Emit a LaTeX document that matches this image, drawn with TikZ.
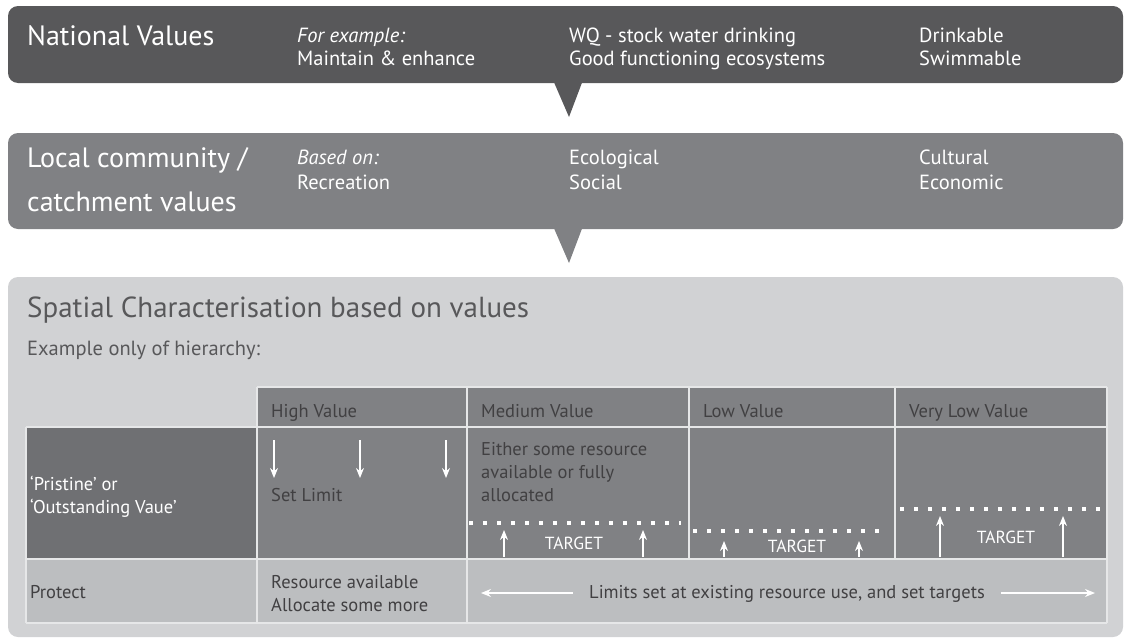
\documentclass[tikz,border=0pt]{standalone}
\usepackage{fontspec}
\setmainfont{PT Sans}
\usetikzlibrary{arrows.meta}

\definecolor{darkbox}{HTML}{58585A}
\definecolor{midbox}{HTML}{808184}
\definecolor{lightbox}{HTML}{D1D2D4}
\definecolor{protectrow}{HTML}{BCBEC0}
\definecolor{firstcell}{HTML}{6F7073}
\definecolor{celltxt}{HTML}{414042}
\definecolor{rule}{HTML}{E6E7E8}

\tikzset{
  panel/.style={rounded corners=10pt,inner sep=0pt},
  bigtxt/.style={anchor=base west,inner sep=0pt,text=white,font=\fontsize{28}{34}\selectfont},
  boxtxt/.style={anchor=base west,inner sep=0pt,text=white,font=\fontsize{20.5}{24}\selectfont},
  celltext/.style={anchor=base west,inner sep=0pt,text=celltxt,font=\fontsize{18.5}{22}\selectfont},
  tgt/.style={anchor=base,inner sep=0pt,text=white,font=\fontsize{17.5}{20}\selectfont},
  limit/.style={white,line width=1.2pt,-{Stealth[length=10pt,width=8pt]}},
  dots/.style={white,line width=3.5pt,dash pattern=on 3.5pt off 10.5pt},
  gridline/.style={rule,line width=1.5pt}
}

\begin{document}
\begin{tikzpicture}[x=1pt,y=-1pt]
  \useasboundingbox (0,0) rectangle (1124,637);

  % the three panels
  \node[panel,fill=darkbox,minimum width=1115pt,minimum height=77pt] (natbox) at (565.5,44.5) {};
  \fill[darkbox] (553,80) -- (583,80) -- (569,117) -- cycle;
  \node[panel,fill=midbox,minimum width=1115pt,minimum height=96pt] (locbox) at (565.5,181) {};
  \fill[midbox] (553,226) -- (583,226) -- (569,263) -- cycle;
  \node[panel,fill=lightbox,minimum width=1115pt,minimum height=360pt] (spabox) at (565.5,457) {};

  % national values
  \node[bigtxt] (nat) at (27,45) {National Values};
  \node[boxtxt] (nat1a) at (297,42) {\itshape For example:};
  \node[boxtxt] (nat1b) at (297,65) {Maintain \& enhance};
  \node[boxtxt] (nat2a) at (569,42) {WQ - stock water drinking};
  \node[boxtxt] (nat2b) at (569,65) {Good functioning ecosystems};
  \node[boxtxt] (nat3a) at (919,42) {Drinkable};
  \node[boxtxt] (nat3b) at (919,65) {Swimmable};

  % local values
  \node[bigtxt] (loca) at (27,167) {Local community /};
  \node[bigtxt] (locb) at (27,211) {catchment values};
  \node[boxtxt] (loc1a) at (297,164) {\itshape Based on:};
  \node[boxtxt] (loc1b) at (297,189) {Recreation};
  \node[boxtxt] (loc2a) at (569,164) {Ecological};
  \node[boxtxt] (loc2b) at (569,189) {Social};
  \node[boxtxt] (loc3a) at (919,164) {Cultural};
  \node[boxtxt] (loc3b) at (919,189) {Economic};

  % spatial characterisation
  \node[bigtxt,text=darkbox,font=\fontsize{29}{35}\selectfont] (spa) at (27,317) {Spatial Characterisation based on values};
  \node[boxtxt,text=darkbox] (hier) at (27,355) {Example only of hierarchy:};

  % table cells
  \fill[midbox] (257,387) rectangle (1107,559);
  \fill[firstcell] (26,427) rectangle (257,559);
  \fill[protectrow] (26,559) rectangle (1107,623);
  \draw[gridline] (257,387) -- (1107,387);
  \foreach \y in {427,559,623}
    \draw[gridline] (26,\y) -- (1107,\y);
  \foreach \x in {257,467,1107}
    \draw[gridline] (\x,387) -- (\x,623);
  \foreach \x in {689,895}
    \draw[gridline] (\x,387) -- (\x,559);
  \draw[gridline] (26,427) -- (26,623);

  % header row
  \node[celltext] (high) at (271,417) {High Value};
  \node[celltext] (med) at (481,417) {Medium Value};
  \node[celltext] (low) at (703,417) {Low Value};
  \node[celltext] (vlow) at (909,417) {Very Low Value};

  % pristine row
  \node[celltext,text=white] (pri1) at (30,490) {‘Pristine’ or};
  \node[celltext,text=white] (pri2) at (30,513) {‘Outstanding Vaue’};
  \node[celltext] (setlim) at (271,501) {Set Limit};
  \node[celltext] (eith1) at (481,455) {Either some resource};
  \node[celltext] (eith2) at (481,478) {available or fully};
  \node[celltext] (eith3) at (481,501) {allocated};
  \node[tgt] (tmed) at (574,549) {TARGET};
  \node[tgt] (tlow) at (797,552) {TARGET};
  \node[tgt] (tvlow) at (1006,543) {TARGET};

  \foreach \x in {274,360,446} {
    \coordinate (lt\x) at (\x,440);
    \coordinate (lb\x) at (\x,478);
    \draw[limit] (lt\x) -- (lb\x);
  }
  \foreach \x/\top in {504/530,643/530,724/541,859/541,940/516,1063/516} {
    \coordinate (tb\x) at (\x,557);
    \coordinate (tt\x) at (\x,\top);
    \draw[limit] (tb\x) -- (tt\x);
  }
  \draw[dots] (469,523) -- (681,523);
  \draw[dots] (693,531) -- (886,531);
  \draw[dots] (900,509) -- (1100,509);

  % protect row
  \node[celltext] (prot) at (30,598) {Protect};
  \node[celltext] (res1) at (271,588) {Resource available};
  \node[celltext] (res2) at (271,611) {Allocate some more};
  \node[celltext,anchor=base] (lims) at (787,598) {Limits set at existing resource use, and set targets};
  \coordinate (limL) at (481,593);
  \coordinate (limR) at (1095,593);
  \draw[limit] (lims.west |- limL) ++(-16,0) -- (limL);
  \draw[limit] (lims.east |- limR) ++(16,0) -- (limR);
\end{tikzpicture}
\end{document}
